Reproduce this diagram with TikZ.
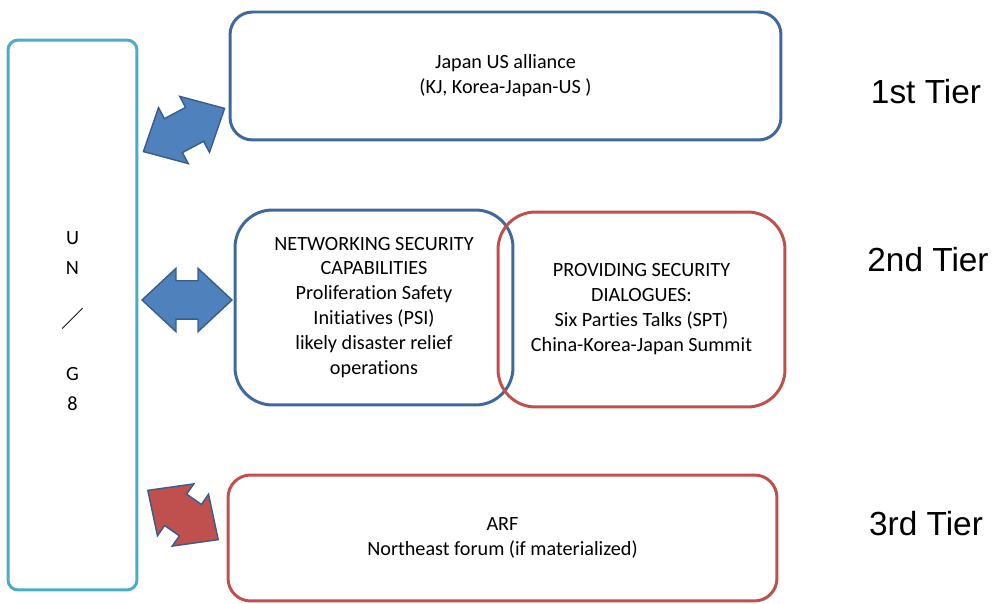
\documentclass[tikz,border=0pt]{standalone}
\usepackage{fontspec}
\setmainfont{Carlito}[Ligatures=NoCommon]
\newfontfamily\tierfont{Liberation Sans}
\newfontfamily\cjk{Noto Sans CJK JP}
\usetikzlibrary{shapes.arrows}
\definecolor{unline}{HTML}{4BACC6}
\definecolor{blueline}{HTML}{41689C}
\definecolor{redline}{HTML}{C0504D}
\definecolor{arrowfill}{HTML}{4F81BD}
\definecolor{arrowline}{HTML}{385D8A}
\begin{document}
\begin{tikzpicture}[x=0.02cm, y=0.02cm,
    box/.style={rectangle, draw, line width=1.7pt, align=center, inner sep=0pt,
        font=\fontsize{11.5}{14.2}\selectfont},
    dblarrow/.style={double arrow, draw=arrowline, line width=0.8pt, inner xsep=0pt, inner ysep=0.37cm,
        double arrow tip angle=86, double arrow head extend=0.25cm},
    tier/.style={font=\tierfont\fontsize{19}{22}\selectfont},
]
    \useasboundingbox (0,0) rectangle (993,604);

    % UN / G8
    \node[box, draw=unline, rounded corners=0.2cm, minimum width=2.58cm, minimum height=11cm]
        (un) at (72.5,289) {};
    \node[align=center, inner sep=0pt, font=\fontsize{11.5}{17}\selectfont]
        (untext) at (72.5,283) {U\\N\\[13.5pt]{\cjk\fontsize{13}{13}\selectfont ／}\\[13pt]G\\8};

    % Tier boxes
    \node[box, draw=blueline, rounded corners=0.45cm, minimum width=11.02cm, minimum height=2.56cm]
        (alliance) at (505.5,528) {Japan US alliance\\(KJ, Korea-Japan-US )};
    \node[box, draw=blueline, rounded corners=0.75cm, minimum width=5.56cm, minimum height=3.9cm]
        (networking) at (374,296.5) {NETWORKING SECURITY\\CAPABILITIES\\Proliferation Safety\\Initiatives (PSI)\\likely disaster relief\\operations};
    \node[box, draw=redline, rounded corners=0.75cm, minimum width=5.74cm, minimum height=3.9cm]
        (dialogues) at (641.5,294.5) {PROVIDING SECURITY\\DIALOGUES:\\Six Parties Talks (SPT)\\China-Korea-Japan Summit};
    \node[box, draw=redline, rounded corners=0.45cm, minimum width=10.98cm, minimum height=2.52cm]
        (arf) at (502.5,66) {ARF\\Northeast forum (if materialized)};

    % Block arrows
    \node[dblarrow, fill=arrowfill, rotate=28, minimum height=1.84cm] (arrA) at (184,474) {};
    \node[dblarrow, fill=arrowfill, minimum height=1.8cm] (arrB) at (187,304) {};
    \node[dblarrow, fill=redline, rotate=-35, minimum height=1.72cm] (arrC) at (183,89) {};

    % Tier labels
    \node[tier] (t1) at (926,512) {1st Tier};
    \node[tier] (t2) at (928,344) {2nd Tier};
    \node[tier] (t3) at (926,80) {3rd Tier};
\end{tikzpicture}
\end{document}
